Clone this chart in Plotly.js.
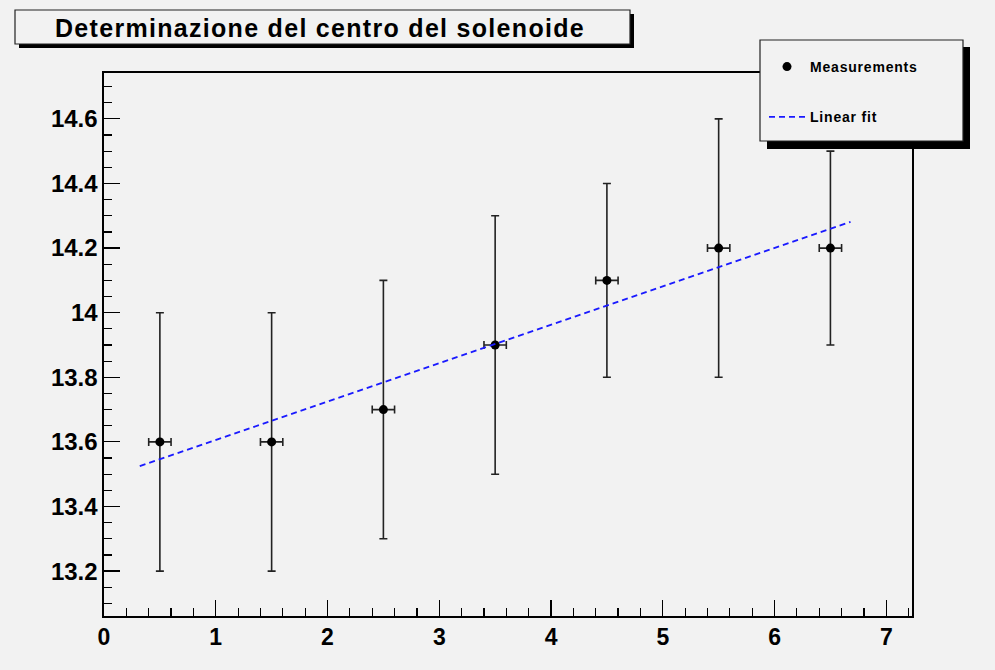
<!DOCTYPE html>
<html>
<head>
<meta charset="utf-8">
<script src="https://cdn.plot.ly/plotly-3.0.1.min.js"></script>
<style>
html,body{margin:0;padding:0;background:#f2f2f2;}
#chart{width:995px;height:670px;}
.gtitle{letter-spacing:1.3px;}
.legendtext{letter-spacing:0.8px;}
</style>
</head>
<body>
<div id="chart"></div>
<script>
// Measurements
var xPos = [0.5, 1.5, 2.5, 3.5, 4.5, 5.5, 6.5];
var yVal = [13.6, 13.6, 13.7, 13.9, 14.1, 14.2, 14.2];
var xErr = [0.1, 0.1, 0.1, 0.1, 0.1, 0.1, 0.1];
var yErr = [0.4, 0.4, 0.4, 0.4, 0.3, 0.4, 0.3];
// Linear fit (endpoints of drawn segment)
var fitX = [0.32, 6.68];
var fitY = [13.525, 14.281];

var titleText = "Determinazione del centro del solenoide";
var seriesNames = ["Measurements", "Linear fit"];

var W = 995, H = 670, L = 104, R = 912, T = 73, B = 616;
function px(x){ return (x - L) / (R - L); }
function py(y){ return (B - y) / (B - T); }

var FONT = "Liberation Sans, Arial, sans-serif";

var traces = [
  {
    x: xPos, y: yVal, type: 'scatter', mode: 'markers', name: seriesNames[0],
    legendgroup: 'a',
    marker: {color: 'black', size: 9, symbol: 'circle'},
    error_y: {type: 'data', array: yErr, visible: true, color: '#222', thickness: 1.6, width: 4},
    error_x: {type: 'data', array: xErr, visible: true, color: '#222', thickness: 1.6, width: 4}
  },
  {
    x: fitX, y: fitY, type: 'scatter', mode: 'lines', name: seriesNames[1],
    legendgroup: 'b',
    line: {color: '#1a1aff', width: 1.8, dash: '6px,4px'}
  }
];

var layout = {
  width: W, height: H,
  margin: {l: L, r: W - R, t: T, b: H - B},
  paper_bgcolor: '#f2f2f2', plot_bgcolor: '#f2f2f2',
  font: {family: FONT, color: 'black'},
  title: {text: titleText, xref: 'container', yref: 'container',
          x: 320/W, xanchor: 'center', y: 1 - 28/H, yanchor: 'middle',
          font: {family: FONT, size: 25, weight: 'bold', color: 'black'}},
  showlegend: true,
  legend: {x: px(764), xanchor: 'left', y: py(51), yanchor: 'top',
           bgcolor: 'rgba(0,0,0,0)', borderwidth: 0, itemwidth: 36,
           font: {family: FONT, size: 14, weight: 'bold', color: 'black'},
           tracegroupgap: 29, traceorder: 'grouped'},
  xaxis: {range: [0, 7.23], showgrid: false, zeroline: false,
          showline: true, linecolor: 'black', linewidth: 1.6, mirror: true,
          ticks: 'inside', ticklen: 16, tickwidth: 1.2, tickcolor: 'black',
          dtick: 1, tick0: 0,
          minor: {dtick: 0.2, ticks: 'inside', ticklen: 8, tickwidth: 1.2, tickcolor: 'black'},
          tickfont: {family: FONT, size: 23, weight: 'bold', color: 'black'}},
  yaxis: {range: [13.061, 14.742], showgrid: false, zeroline: false,
          showline: true, linecolor: 'black', linewidth: 1.6, mirror: true,
          ticks: 'inside', ticklen: 16, tickwidth: 1.2, tickcolor: 'black',
          dtick: 0.2, tick0: 13.2,
          minor: {dtick: 0.05, ticks: 'inside', ticklen: 8, tickwidth: 1.2, tickcolor: 'black'},
          tickfont: {family: FONT, size: 24, weight: 'bold', color: 'black'}},
  shapes: [
    // title box shadow + box
    {type: 'rect', xref: 'paper', yref: 'paper', layer: 'above',
     x0: px(19), x1: px(634), y0: py(48), y1: py(14), fillcolor: 'black', line: {width: 0}},
    {type: 'rect', xref: 'paper', yref: 'paper', layer: 'above',
     x0: px(15), x1: px(630), y0: py(44), y1: py(10), fillcolor: '#f2f2f2', line: {color: '#222', width: 1.2}},
    // legend box shadow + box
    {type: 'rect', xref: 'paper', yref: 'paper', layer: 'above',
     x0: px(767), x1: px(970), y0: py(149), y1: py(47), fillcolor: 'black', line: {width: 0}},
    {type: 'rect', xref: 'paper', yref: 'paper', layer: 'above',
     x0: px(760), x1: px(963), y0: py(141), y1: py(40), fillcolor: '#f2f2f2', line: {color: '#222', width: 1.2}}
  ]
};

Plotly.newPlot('chart', traces, layout, {displayModeBar: false, staticPlot: true});
</script>
</body>
</html>
